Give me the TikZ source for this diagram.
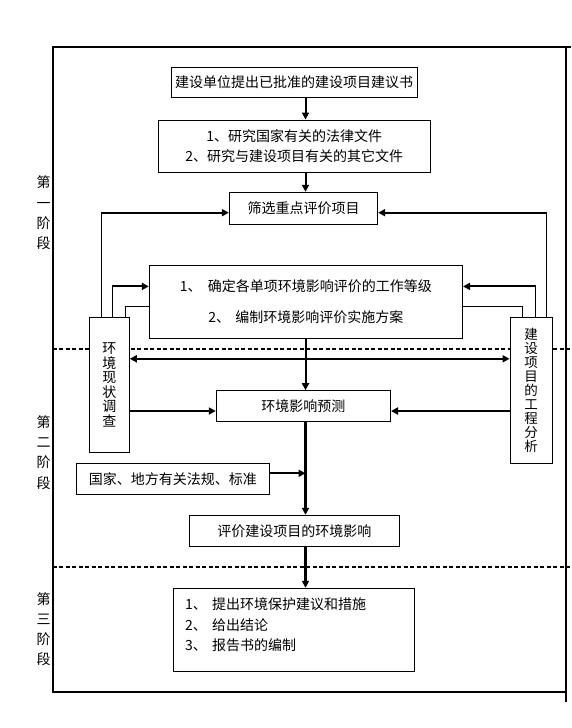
\documentclass[tikz,border=0pt]{standalone}
\usepackage{fontspec}
\newfontfamily\cjk{Noto Sans CJK SC}
\usetikzlibrary{arrows.meta}
\begin{document}
\begin{tikzpicture}[x=1pt,y=-1pt,
  box/.style={draw,line width=1pt,fill=white,inner sep=0pt,align=center,
    font=\cjk\fontsize{14}{16}\selectfont},
  lbl/.style={inner sep=0pt,align=center,font=\cjk\fontsize{14}{20.3}\selectfont},
  thinline/.style={line width=1pt},
  arr/.style={line width=2pt,-{Triangle[length=7pt,width=7pt]}},
  arrb/.style={line width=2.6pt,-{Triangle[length=7pt,width=7pt]}},
  dbl/.style={line width=2pt,{Triangle[length=7pt,width=7pt]}-{Triangle[length=7pt,width=7pt]}},
  stagesep/.style={line width=1.8pt,dash pattern=on 4pt off 2.5pt}
]
\useasboundingbox (0,0) rectangle (571,728);

% frame
\draw[line width=2pt] (571,46.7) -- (52.7,46.7) -- (52.7,691.7) -- (566,691.7);
\draw[line width=1.5pt] (566,46.7) -- (566,702);
% stage separators
\draw[stagesep] (52.7,348.7) -- (571,348.7);
\draw[stagesep] (52.7,566.7) -- (571,566.7);

% stage labels
\node[lbl] (s1) at (43.5,213) {第\\一\\阶\\段};
\node[lbl] (s2) at (43.5,452.5) {第\\二\\阶\\段};
\node[lbl] (s3) at (43.5,629.2) {第\\三\\阶\\段};

% helper coordinates
\coordinate (cx) at (305.5,0);
\coordinate (yA) at (0,212.7);
\coordinate (yB) at (0,286.4);
\coordinate (yC) at (0,306.5);
\coordinate (yD) at (0,358.8);
\coordinate (yE) at (0,411);
\coordinate (yF) at (0,473.3);
\coordinate (xL1) at (101.3,0);
\coordinate (xL2) at (112.7,0);
\coordinate (xL3) at (125.7,0);
\coordinate (xR1) at (546.7,0);
\coordinate (xR2) at (535,0);
\coordinate (xR3) at (522.3,0);

% boxes
\node[box,minimum width=245.7pt,minimum height=30pt] (b1) at (294.2,82.3)
  {建设单位提出已批准的建设项目建议书};
\node[box,minimum width=271.7pt,minimum height=52.3pt,
  font=\cjk\fontsize{14}{19.3}\selectfont] (b2) at (294.2,146.2)
  {1、研究国家有关的法律文件\\2、研究与建设项目有关的其它文件};
\node[box,minimum width=148.3pt,minimum height=32pt] (b3) at (303.5,208.3)
  {筛选重点评价项目};
\node[box,minimum width=313.2pt,minimum height=73.3pt,
  font=\cjk\fontsize{14}{31.8}\selectfont] (b4) at (305.9,301.7)
  {\makebox[28pt][l]{1、}确定各单项环境影响评价的工作等级\\
   \makebox[27pt][l]{2、}编制环境影响评价实施方案};
\node[box,minimum width=40pt,minimum height=135pt,
  font=\cjk\fontsize{14}{14.5}\selectfont] (L) at (109.3,384.8)
  {环\\境\\现\\状\\调\\查};
\node[box,minimum width=42.3pt,minimum height=146pt,
  font=\cjk\fontsize{13.5}{13.9}\selectfont] (R) at (531.2,390.3)
  {建\\设\\项\\目\\的\\工\\程\\分\\析};
\node[box,minimum width=174.2pt,minimum height=31pt] (b5) at (303.4,406.2)
  {环境影响预测};
\node[box,minimum width=193pt,minimum height=30.7pt] (b6) at (172.8,478.7)
  {国家、地方有关法规、标准};
\node[box,minimum width=210pt,minimum height=31.4pt] (b7) at (294.3,531)
  {评价建设项目的环境影响};
\node[box,minimum width=241pt,minimum height=83pt] (b8) at (293.8,629.8) {};
\node[inner sep=0pt,align=left,anchor=west,
  font=\cjk\fontsize{14}{20.4}\selectfont] (b8t) at (185,624.7)
  {\makebox[27pt][l]{1、}提出环境保护建议和措施\\
   \makebox[27pt][l]{2、}给出结论\\
   \makebox[27pt][l]{3、}报告书的编制};

% main vertical flow
\draw[arr] (b1.south -| cx) -- (b2.north -| cx);
\draw[arr] (b2.south -| cx) -- (b3.north -| cx);
\draw[arr] (b4.south -| cx) -- (b5.north -| cx);
\draw[arrb] (b5.south -| cx) -- (b7.north -| cx);
\draw[arrb] (b7.south -| cx) -- (b8.north -| cx);
\draw[arr] (b6.east |- yF) -- (cx |- yF);

% left feedback lines
\draw[thinline] (L.north -| xL1) -- (xL1 |- yA);
\draw[arr] ([xshift=-0.5pt]xL1 |- yA) -- (b3.west |- yA);
\draw[thinline] (L.north -| xL2) -- (xL2 |- yB);
\draw[arr] ([xshift=-0.5pt]xL2 |- yB) -- (b4.west |- yB);
\draw[thinline] (L.north -| xL3) |- (b4.west |- yC);

% right feedback lines
\draw[thinline] (R.north -| xR1) -- (xR1 |- yA);
\draw[arr] ([xshift=0.5pt]xR1 |- yA) -- (b3.east |- yA);
\draw[thinline] (R.north -| xR2) -- (xR2 |- yB);
\draw[arr] ([xshift=0.5pt]xR2 |- yB) -- (b4.east |- yB);
\draw[thinline] (R.north -| xR3) |- (b4.east |- yC);

% cross connections
\draw[dbl] (L.east |- yD) -- (R.west |- yD);
\draw[arr] (L.east |- yE) -- (b5.west |- yE);
\draw[arr] (R.west |- yE) -- (b5.east |- yE);
\end{tikzpicture}
\end{document}
